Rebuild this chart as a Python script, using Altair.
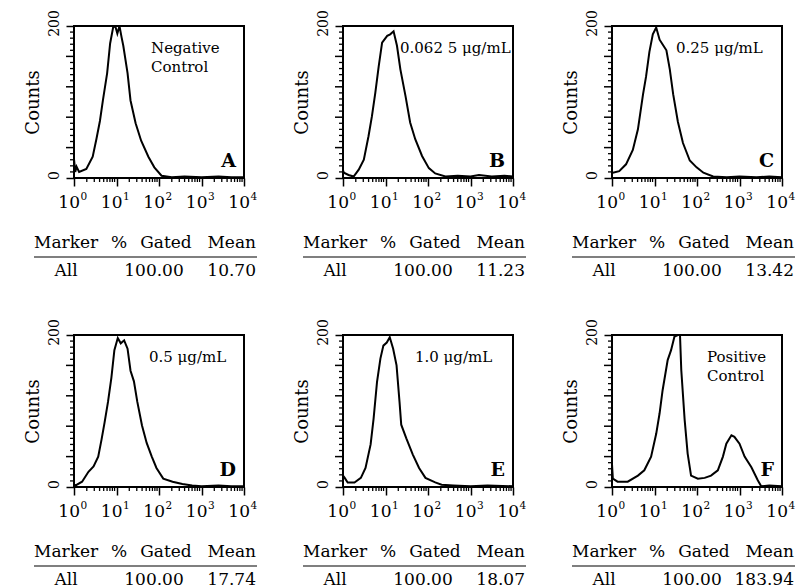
import altair as alt
import pandas as pd
import numpy as np

FONT = "DejaVu Serif"
W, H = 170, 152

# ---------------- data ----------------
panel_ids = ["A", "B", "C", "D", "E", "F"]
annot_lines = [["Negative", "Control"], ["0.062 5 μg/mL"], ["0.25 μg/mL"],
               ["0.5 μg/mL"], ["1.0 μg/mL"], ["Positive", "Control"]]
annot_x = [77, 57, 64, 75, 72, 95]
table_header = ["Marker", "%", "Gated", "Mean"]
marker_name = ["All"] * 6
gated = ["100.00"] * 6
means = ["10.70", "11.23", "13.42", "17.74", "18.07", "183.94"]

decades = [0, 1, 2, 3, 4]
decade_base = ["10"] * 5
decade_sup = ["0", "1", "2", "3", "4"]

# log10(fluorescence) and counts for each histogram
a_x = [0.00, 0.03, 0.06, 0.12, 0.29, 0.44, 0.53, 0.61, 0.68, 0.78, 0.85, 0.92, 0.97, 1.02, 1.07, 1.12,
       1.16, 1.26, 1.33, 1.45, 1.58, 1.75, 1.89, 2.06, 2.3, 2.6, 3.0, 3.4, 3.7, 4.0]
a_y = [25, 8, 15, 8, 12, 28, 52, 75, 102, 138, 177, 198, 200, 190, 200, 185,
       174, 138, 102, 72, 49, 28, 14, 3, 1, 2, 1, 2, 1, 1]

b_x = [0.0, 0.02, 0.13, 0.25, 0.37, 0.49, 0.60, 0.68, 0.76, 0.84, 0.92, 1.04, 1.11, 1.19, 1.27, 1.35,
       1.47, 1.58, 1.70, 1.86, 2.02, 2.17, 2.41, 2.7, 3.0, 3.2, 3.5, 3.8, 4.0]
b_y = [10, 7, 4, 2, 11, 24, 55, 81, 112, 147, 178, 187, 189, 193, 174, 143,
       108, 73, 51, 29, 13, 6, 2, 3, 2, 4, 2, 3, 2]

c_x = [0.0, 0.02, 0.17, 0.33, 0.49, 0.61, 0.73, 0.80, 0.88, 0.96, 1.04, 1.12, 1.20, 1.28, 1.36, 1.44,
       1.55, 1.67, 1.83, 1.99, 2.15, 2.38, 2.7, 3.0, 3.4, 3.7, 4.0]
c_y = [7, 7, 9, 18, 37, 64, 110, 133, 166, 189, 198, 182, 175, 168, 143, 110,
       74, 46, 23, 14, 7, 2, 1, 2, 1, 2, 1]

d_x = [0.0, 0.04, 0.19, 0.34, 0.46, 0.57, 0.65, 0.72, 0.80, 0.88, 0.95, 1.03, 1.10, 1.18, 1.26, 1.33,
       1.41, 1.49, 1.60, 1.71, 1.83, 1.94, 2.10, 2.32, 2.55, 2.78, 3.0, 3.4, 3.7, 4.0]
d_y = [3, 2, 7, 20, 27, 40, 63, 85, 112, 144, 180, 196, 189, 193, 182, 153,
       139, 112, 81, 58, 40, 25, 11, 7, 4, 2, 1, 2, 1, 1]

e_x = [0.0, 0.04, 0.11, 0.27, 0.42, 0.53, 0.65, 0.72, 0.80, 0.88, 0.95, 1.03, 1.10, 1.18, 1.26, 1.33,
       1.37, 1.49, 1.64, 1.79, 1.94, 2.17, 2.32, 2.6, 3.0, 3.4, 4.0]
e_y = [15, 12, 6, 6, 12, 25, 56, 90, 138, 169, 186, 190, 197, 182, 160, 112,
       82, 64, 43, 25, 12, 6, 3, 2, 1, 2, 1]

f_x = [0.0, 0.02, 0.13, 0.37, 0.61, 0.76, 0.92, 1.04, 1.12, 1.19, 1.31, 1.39, 1.47, 1.55, 1.60, 1.63,
       1.71, 1.78, 1.86, 2.02, 2.18, 2.33, 2.49, 2.61, 2.69, 2.81, 2.88, 3.00, 3.12, 3.28, 3.43, 3.51,
       3.7, 4.0]
f_y = [30, 11, 7, 7, 15, 22, 40, 70, 97, 127, 167, 180, 198, 200, 200, 154,
       88, 44, 15, 11, 12, 15, 22, 40, 57, 68, 66, 57, 40, 26, 9, 1,
       2, 1]

series_x = [a_x, b_x, c_x, d_x, e_x, f_x]
series_y = [a_y, b_y, c_y, d_y, e_y, f_y]

minor_x = [float(np.log10(k) + d) for d in range(4) for k in range(2, 10)]
comb_small = [c for c in range(8, 200, 8) if c % 40 != 0]
comb_big = [40, 80, 120, 160]

XSC = alt.Scale(domain=[0, 4], nice=False, zero=False)
YSC = alt.Scale(domain=[0, 200], nice=False, zero=True)
XAXIS = alt.Axis(values=decades, labels=False, tickSize=8, tickColor="black",
                 tickWidth=1.5, domain=False, grid=False, title=None)
YAXIS = alt.Axis(values=[0, 200], labelAngle=270, labelFont=FONT, labelFontSize=14,
                 labelColor="black", labelPadding=5, labelOffset=-3, tickSize=8,
                 tickColor="black", tickWidth=1.5, domain=False, grid=False,
                 title="Counts", titleFont=FONT, titleFontSize=18,
                 titleFontWeight="normal", titleColor="black", titlePadding=5)


def xenc(field):
    return alt.X(field, scale=XSC, axis=XAXIS, title=None)


def yenc(field):
    return alt.Y(field, scale=YSC, axis=YAXIS, title="Counts")


def const_text(text, x, y, size=17, align="left", weight="normal"):
    return alt.Chart(pd.DataFrame({"t": [text]})).mark_text(
        align=align, baseline="alphabetic", font=FONT, fontSize=size,
        fontWeight=weight, color="black"
    ).encode(x=alt.value(x), y=alt.value(y), text="t:N")


def panel(i):
    df = pd.DataFrame({"logx": series_x[i], "count": series_y[i]})
    line = alt.Chart(df).mark_line(color="black", strokeWidth=2, clip=True).encode(
        x=xenc("logx:Q"), y=yenc("count:Q"))
    minor = alt.Chart(pd.DataFrame({"mx": minor_x})).mark_rule(color="black", strokeWidth=1.3).encode(
        x=xenc("mx:Q"), y=alt.value(H), y2=alt.value(H + 4))
    comb1 = alt.Chart(pd.DataFrame({"my": comb_small})).mark_rule(color="black", strokeWidth=1.3).encode(
        y=yenc("my:Q"), x=alt.value(-4), x2=alt.value(0))
    comb2 = alt.Chart(pd.DataFrame({"my": comb_big})).mark_rule(color="black", strokeWidth=1.5).encode(
        y=yenc("my:Q"), x=alt.value(-8), x2=alt.value(0))
    labdf = pd.DataFrame({"d": decades, "b": decade_base, "s": decade_sup})
    lab10 = alt.Chart(labdf).mark_text(font=FONT, fontSize=17, align="right", baseline="alphabetic",
                                        dx=6, color="black").encode(
        x=xenc("d:Q"), y=alt.value(H + 30), text="b:N")
    labsup = alt.Chart(labdf).mark_text(font=FONT, fontSize=10.5, align="left", baseline="alphabetic",
                                         dx=6.5, color="black").encode(
        x=xenc("d:Q"), y=alt.value(H + 22), text="s:N")

    layers = [line, minor, comb1, comb2, lab10, labsup]
    for k, txt in enumerate(annot_lines[i]):
        layers.append(const_text(txt, annot_x[i], 27 + 19 * k, size=15))
    layers.append(const_text(panel_ids[i], W - 8, H - 11, size=19, align="right", weight="bold"))
    # statistics table under the panel
    layers.append(const_text(table_header[0], -40, H + 70, size=17, align="left"))
    layers.append(const_text(table_header[1], 45, H + 70, size=17, align="center"))
    layers.append(const_text(table_header[2], 92, H + 70, size=17, align="center"))
    layers.append(const_text(table_header[3], 182, H + 70, size=17, align="right"))
    layers.append(alt.Chart(pd.DataFrame({"a": [0]})).mark_rule(color="black", strokeWidth=1.2).encode(
        x=alt.value(-40), x2=alt.value(183), y=alt.value(H + 79)))
    layers.append(const_text(marker_name[i], -8, H + 98, size=17, align="center"))
    layers.append(const_text(gated[i], 80, H + 98, size=17, align="center"))
    layers.append(const_text(means[i], 182, H + 98, size=17, align="right"))
    return alt.layer(*layers).properties(width=W, height=H)


chart = alt.concat(*[panel(i) for i in range(6)], columns=3,
                   spacing={"row": 157, "column": 99}, bounds="flush").properties(
    padding={"left": 15, "top": 0, "right": 0, "bottom": 0},
    background="white",
).configure_view(stroke="black", strokeWidth=2)

chart.save("out.html", embed_options={"renderer": "svg", "actions": False})
